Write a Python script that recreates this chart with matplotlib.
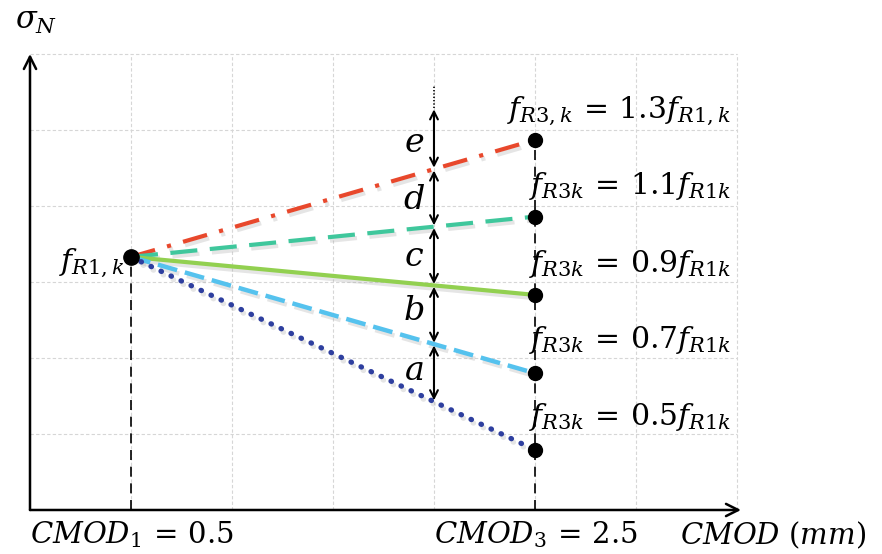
import matplotlib
matplotlib.use("Agg")
import matplotlib.pyplot as plt
import matplotlib.patheffects as pe

plt.rcParams['mathtext.fontset'] = 'dejavuserif'

# schematic values (grid units)
cmod1 = 0.5
cmod3 = 2.5
f_r1 = 3.33
ratios = ['1.3', '1.1', '0.9', '0.7', '0.5']
f_r3 = [4.87, 3.86, 2.83, 1.80, 0.79]
colors = ['#E8482C', '#3FC79C', '#92D050', '#55C2EE', '#2E3F9F']
styles = [(0, (6, 3, 1, 3)), (0, (6.5, 3)), '-', (0, (4.5, 1.8)), (0, (0.1, 2.0))]
widths = [3.0, 3.0, 3.0, 3.2, 3.8]
labels_r3 = [r'$f_{R3,k}\,=\,1.3f_{R1,k}$', r'$f_{R3k}\,=\,1.1f_{R1k}$',
             r'$f_{R3k}\,=\,0.9f_{R1k}$', r'$f_{R3k}\,=\,0.7f_{R1k}$',
             r'$f_{R3k}\,=\,0.5f_{R1k}$']
label_y = [5.25, 4.26, 3.24, 2.24, 1.23]
grid_x = [0.5, 1.0, 1.5, 2.0, 2.5, 3.0, 3.5]
grid_y = [1, 2, 3, 4, 5, 6]
x_arrow = 2.0
gap_names = ['a', 'b', 'c', 'd', 'e']
gap_label_y = [1.84, 2.63, 3.33, 4.08, 4.84]
top_gap = 5.29

fig = plt.figure(figsize=(8.82, 5.54), dpi=100)
ax = fig.add_axes([0, 0, 1, 1])
ax.set_xlim(-0.1485, 4.218)
ax.set_ylim(-0.579, 6.71)
ax.axis('off')

# grid
for gx in grid_x:
    ax.plot([gx, gx], [0, grid_y[-1]], color='#d6d6d6', lw=0.8, ls=(0, (3, 2)), zorder=1)
for gy in grid_y:
    ax.plot([0, grid_x[-1]], [gy, gy], color='#d6d6d6', lw=0.8, ls=(0, (3, 2)), zorder=1)

# axes arrows
ax.annotate('', xy=(3.52, 0), xytext=(0, 0),
            arrowprops=dict(arrowstyle='->', lw=1.8, color='black', mutation_scale=22, shrinkA=0, shrinkB=0))
ax.annotate('', xy=(0, 6.0), xytext=(0, 0),
            arrowprops=dict(arrowstyle='->', lw=1.8, color='black', mutation_scale=22, shrinkA=0, shrinkB=0))

# vertical dashed guides
ax.plot([cmod1, cmod1], [0, f_r1], color='black', lw=1.2, ls=(0, (6, 4)), zorder=2)
ax.plot([cmod3, cmod3], [0, f_r3[0]], color='black', lw=1.2, ls=(0, (6, 4)), zorder=2)

shadow = [pe.SimpleLineShadow(offset=(1.5, -2.5), shadow_color='#aaaaaa', alpha=0.3), pe.Normal()]
for yend, c, s, w in zip(f_r3, colors, styles, widths):
    ln, = ax.plot([cmod1, cmod3], [f_r1, yend], color=c, lw=w, ls=s, zorder=3,
                  solid_capstyle='butt', dash_capstyle='round' if s == styles[-1] else 'butt')
    ln.set_path_effects(shadow)

ax.plot([cmod1], [f_r1], 'o', color='black', ms=11, zorder=5)
ax.plot([cmod3] * len(f_r3), f_r3, 'o', color='black', ls='none', ms=10, zorder=5)

# gap arrows at x = 2.0
at_x = [f_r1 + (x_arrow - cmod1) / (cmod3 - cmod1) * (v - f_r1) for v in f_r3]
bounds = sorted(at_x) + [top_gap]
for i in range(len(gap_names)):
    ax.annotate('', xy=(x_arrow, bounds[i + 1]), xytext=(x_arrow, bounds[i]),
                arrowprops=dict(arrowstyle='<->', lw=1.5, color='black', mutation_scale=14,
                                shrinkA=1, shrinkB=1), zorder=6)
    ax.text(x_arrow - 0.1, gap_label_y[i], r'$' + gap_names[i] + '$', fontsize=24,
            ha='center', va='center', zorder=6)
ax.plot([x_arrow, x_arrow], [top_gap, 5.59], color='black', lw=1.2, ls=(0, (0.8, 1.2)), zorder=6)

# text labels
for t, y in zip(labels_r3, label_y):
    ax.text(3.47, y, t, fontsize=21.5, ha='right', va='center', zorder=6)
ax.text(0.47, 3.25, r'$f_{R1,k}$', fontsize=21.5, ha='right', va='center', zorder=6)
ax.text(0.03, 6.43, r'$\sigma_N$', fontsize=22, ha='center', va='center')
ax.text(0.0, -0.33, r'$CMOD_1\,=\,0.5$', fontsize=21, ha='left', va='center')
ax.text(2.0, -0.33, r'$CMOD_3\,=\,2.5$', fontsize=21, ha='left', va='center')
ax.text(4.14, -0.33, r'$CMOD\ (mm)$', fontsize=21, ha='right', va='center')

fig.savefig('out.png', dpi=100)
